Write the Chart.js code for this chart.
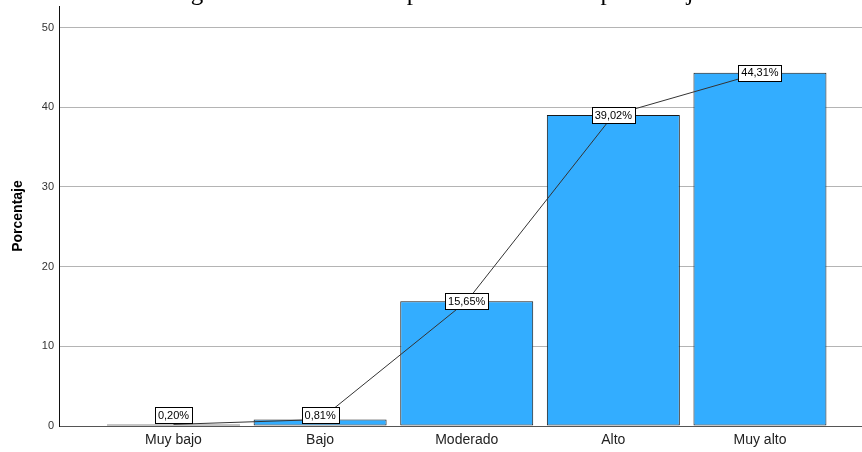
<!DOCTYPE html>
<html>
<head>
<meta charset="utf-8">
<script src="https://cdn.jsdelivr.net/npm/chart.js@4"></script>
<style>
  html,body{margin:0;padding:0;background:#fff;overflow:hidden}
  .wrap{position:relative;width:862px;height:452px}
</style>
</head>
<body>
<div class="wrap"><canvas id="c" role="img" aria-label="Nivel de compromiso en porcentaje"></canvas></div>
<script>
const TITLE = 'Figura 1. Nivel de Compromiso laboral en porcentaje'
const CATS = ['Muy bajo','Bajo','Moderado','Alto','Muy alto']
const PCT = [0.20, 0.81, 15.65, 39.02, 44.31]
const PCT_LABELS = ['0,20%','0,81%','15,65%','39,02%','44,31%']
const Y_TICKS = [0,10,20,30,40,50]

const sans = '"Liberation Sans", Arial, sans-serif'
const pts = PCT.map((v,i)=>({x:i,y:v}))

// clipped figure caption at the very top
const captionPlugin = {
  id:'caption',
  afterDraw(chart){
    const ctx=chart.ctx
    ctx.save()
    ctx.font='25px "Liberation Serif", "Times New Roman", serif'
    ctx.fillStyle='#000'
    ctx.textAlign='left'
    ctx.textBaseline='alphabetic'
    ctx.fillText(TITLE,170,0)
    ctx.restore()
  }
}

// boxed value labels on the line points
const boxLabels = {
  id:'boxLabels',
  afterDatasetsDraw(chart){
    const ctx=chart.ctx, meta=chart.getDatasetMeta(1)
    const y0=chart.scales.y.getPixelForValue(0)
    ctx.save()
    ctx.font='11px '+sans
    ctx.textAlign='center'
    ctx.textBaseline='middle'
    meta.data.forEach((p,i)=>{
      const t=PCT_LABELS[i]
      const w=Math.round(ctx.measureText(t).width)+6, h=16
      let cy=p.y
      if(cy+h/2>y0-3) cy=y0-3-h/2
      const x=Math.round(p.x-w/2)+0.5, y=Math.round(cy-h/2)+0.5
      ctx.fillStyle='#fff'
      ctx.fillRect(x,y,w,h)
      ctx.strokeStyle='#000'
      ctx.lineWidth=1
      ctx.strokeRect(x,y,w,h)
      ctx.fillStyle='#000'
      ctx.fillText(t,p.x,cy+0.5)
    })
    ctx.restore()
  }
}

new Chart(document.getElementById('c'),{
  type:'bar',
  data:{datasets:[
    {type:'bar',data:pts,backgroundColor:'#33adff',borderColor:'#1a1a1a',borderWidth:1,borderSkipped:false,barPercentage:0.907,categoryPercentage:1,order:2},
    {type:'line',data:pts,borderColor:'#333',borderWidth:1,pointRadius:0,tension:0,fill:false,order:1}
  ]},
  options:{
    responsive:true, maintainAspectRatio:false, animation:false, devicePixelRatio:1,
    layout:{padding:{top:6,right:0,left:0,bottom:0}},
    plugins:{legend:{display:false},tooltip:{enabled:false}},
    scales:{
      x:{
        type:'linear', min:-0.781, max:4.696, offset:false,
        afterBuildTicks:s=>{s.ticks=CATS.map((_,i)=>({value:i}))},
        afterFit:s=>{s.height=26;s.paddingLeft=0;s.paddingRight=0},
        grid:{display:false,drawTicks:false},
        border:{display:true,color:'#555',width:1},
        ticks:{callback:v=>CATS[v],autoSkip:false,maxRotation:0,padding:6,color:'#222',font:{family:sans,size:14}}
      },
      y:{
        min:0, max:52.7,
        afterBuildTicks:s=>{s.ticks=Y_TICKS.map(v=>({value:v}))},
        afterFit:s=>{s.width=59;s.paddingTop=0;s.paddingBottom=0},
        grid:{color:'#b4b4b4',drawTicks:false},
        border:{display:true,color:'#111',width:1},
        ticks:{padding:5,color:'#333',font:{family:sans,size:11}},
        title:{display:true,text:'Porcentaje',color:'#000',padding:{top:10,bottom:0},font:{family:sans,size:14,weight:'bold'}}
      }
    }
  },
  plugins:[captionPlugin,boxLabels]
})
</script>
</body>
</html>
